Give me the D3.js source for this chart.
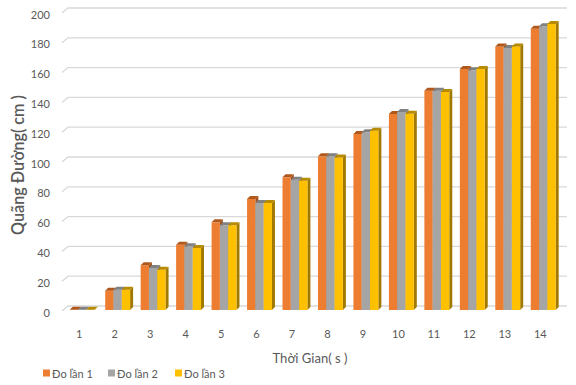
<!DOCTYPE html>
<html><head><meta charset="utf-8">
<script src="https://cdn.jsdelivr.net/npm/d3@7"></script>
<style>body{margin:0;background:#fff}svg{display:block}text{font-family:Lato,"Open Sans",sans-serif;fill:#595959}</style>
</head><body>
<svg id="c" width="576" height="385"></svg>
<script>
const categories = ["1","2","3","4","5","6","7","8","9","10","11","12","13","14"];
const seriesNames = ["Đo lần 1","Đo lần 2","Đo lần 3"];
const lan1 = [0.8, 13.6, 30.7, 44.5, 59.5, 75.2, 89.7, 103.8, 118.8, 132.2, 147.9, 162.4, 177.6, 189.5];
const lan2 = [0.8, 14.3, 28.9, 43.4, 57.5, 72.5, 88.1, 103.8, 119.9, 133.6, 147.9, 161.5, 176.5, 191.1];
const lan3 = [0.8, 14.3, 27.7, 42.3, 57.5, 72.5, 87.4, 103.1, 121.0, 132.4, 147.0, 162.4, 177.6, 192.6];
const yTicks = [0,20,40,60,80,100,120,140,160,180,200];
const xTitle = "Thời Gian( s )";
const yTitle = "Quãng Đường( cm )";

const series = [lan1, lan2, lan3];
const front = ["#ED7D31","#A5A5A5","#FFC000"];
const topC = ["#b0581c","#808080","#b88a00"];
const sideC = ["#a0521c","#7a7a7a","#a07a00"];

const svg = d3.select("#c");
const y = d3.scaleLinear().domain([0,200]).range([306,8]);
const x = d3.scaleBand().domain(categories).range([61.5,558]);
const baseY = 310, dx = 3, dy = 3, fOff = 5, bw = 8.3;

// gridlines
const g = svg.append("g");
yTicks.forEach(t => {
  const yy = y(t);
  g.append("path").attr("d", `M62,${yy+5}L68,${yy}L567,${yy}`)
    .attr("fill","none").attr("stroke","#d9d9d9").attr("stroke-width",1.3);
});
// y tick labels
svg.append("g").selectAll("text").data(yTicks).join("text")
  .attr("x",50).attr("y",d=>y(d)+6).attr("text-anchor","end")
  .attr("dominant-baseline","central").attr("font-size",11).text(d=>d);
// x tick labels
svg.append("g").selectAll("text").data(categories).join("text")
  .attr("x",d=>x(d)+x.bandwidth()/2).attr("y",333).attr("text-anchor","middle")
  .attr("dominant-baseline","central").attr("font-size",11).text(d=>d);

// bars
const bars = svg.append("g");
categories.forEach((c,i) => {
  const gx = x(c) + x.bandwidth()/2 - 9.5;
  series.forEach((s,k) => {
    const x0 = gx + k*bw, x1 = x0 + bw;
    const yf = y(s[i]) + fOff;
    bars.append("path").attr("d",`M${x1},${yf}L${x1+dx},${yf-dy}L${x1+dx},${baseY-dy}L${x1},${baseY}Z`).attr("fill",sideC[k]);
    bars.append("rect").attr("x",x0).attr("y",yf).attr("width",bw).attr("height",baseY-yf).attr("fill",front[k]);
    bars.append("path").attr("d",`M${x0},${yf}L${x1},${yf}L${x1+dx},${yf-dy}L${x0+dx},${yf-dy}Z`).attr("fill",topC[k]);
  });
});

// axis titles
function fit(sel, target){ const w = sel.node().getComputedTextLength(); const fs = +sel.attr("font-size"); sel.attr("font-size", fs*target/w); }
const xt = svg.append("text").attr("x",310).attr("y",358).attr("text-anchor","middle")
  .attr("dominant-baseline","central").attr("font-size",12).text(xTitle);
fit(xt, 75);
const yt = svg.append("text").attr("transform","translate(17,165) rotate(-90)").attr("text-anchor","middle")
  .attr("dominant-baseline","central").attr("font-size",13).attr("font-weight",600).text(yTitle);
fit(yt, 140);

// legend
const lx = [43,108,175];
seriesNames.forEach((n,k)=>{
  svg.append("rect").attr("x",lx[k]).attr("y",369.5).attr("width",7).attr("height",7).attr("fill",front[k]);
  svg.append("text").attr("x",lx[k]+9).attr("y",373).attr("dominant-baseline","central").attr("font-size",11).text(n);
});
</script>
</body></html>
